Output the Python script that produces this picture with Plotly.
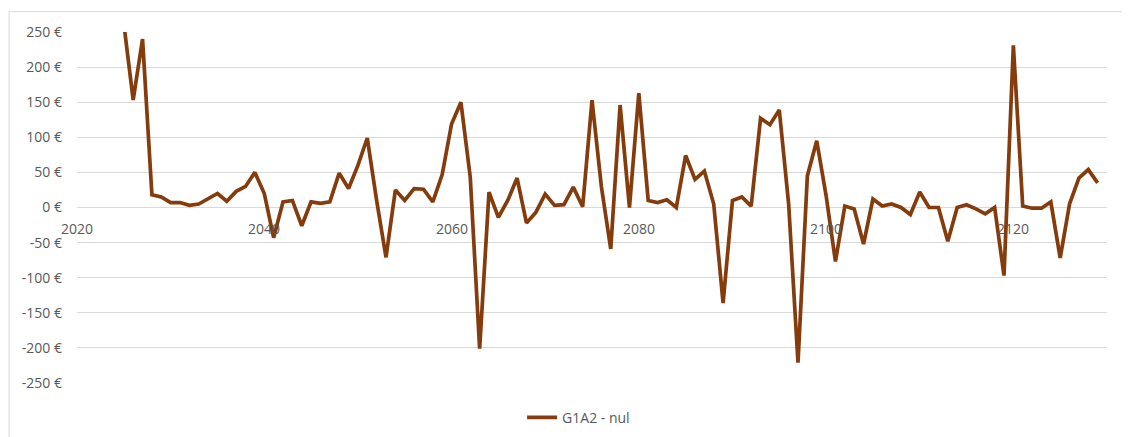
import plotly.graph_objects as go

# yearly values (euros)
years = list(range(2025, 2130))
values = [
    262, 153, 240, 18, 15, 7, 7, 3, 5, 12,          # 2025-2034
    20, 9, 23, 30, 50, 20, -43, 8, 10, -26,         # 2035-2044
    8, 6, 8, 49, 27, 60, 99, 10, -71, 25,           # 2045-2054
    10, 27, 26, 8, 47, 119, 150, 43, -201, 22,      # 2055-2064
    -14, 10, 42, -22, -7, 19, 3, 4, 29, 1,          # 2065-2074
    153, 30, -59, 146, 0, 163, 10, 7, 11, 0,        # 2075-2084
    74, 40, 52, 5, -136, 10, 15, 2, 127, 118,       # 2085-2094
    139, 5, -221, 45, 95, 17, -77, 2, -2, -52,      # 2095-2104
    12, 2, 5, 0, -10, 22, 0, 0, -48, 0,             # 2105-2114
    4, -2, -9, 0, -97, 231, 2, -1, -1, 8,           # 2115-2124
    -72, 5, 42, 54, 35,                             # 2125-2129
]
x_ticks = [2020, 2040, 2060, 2080, 2100, 2120]
y_ticks = [250, 200, 150, 100, 50, 0, -50, -100, -150, -200, -250]
y_labels = [f"{v} €" for v in y_ticks]
series_name = "G1A2 - nul"

LINE = "#843C0C"
GRID = "#D9D9D9"
TEXT = "#595959"
FONT = "Open Sans"

fig = go.Figure()
fig.add_trace(go.Scatter(
    x=years, y=values, mode="lines", name=series_name,
    line=dict(color=LINE, width=3.7),
))

# x labels sit on the zero line, like the Excel original
for yr in x_ticks:
    fig.add_annotation(
        x=yr, y=0, xref="x", yref="y", text=str(yr), showarrow=False,
        yshift=-21, font=dict(family=FONT, size=14, color=TEXT),
    )

# chart-area border (runs past the right/bottom edge of the screenshot)
fig.add_shape(
    type="rect", xref="paper", yref="paper",
    x0=-0.066, x1=1.05, y0=-0.25, y1=1.058,
    line=dict(color=GRID, width=1), fillcolor="rgba(0,0,0,0)", layer="below",
)

# the html page adds an 8px body margin, so margins are offset by 8
fig.update_layout(
    width=1130, height=437,
    margin=dict(l=69, r=31, t=24, b=62, autoexpand=False),
    paper_bgcolor="white", plot_bgcolor="white",
    font=dict(family=FONT, size=14, color=TEXT),
    showlegend=True,
    legend=dict(
        orientation="h", x=0.487, xanchor="center",
        yref="container", y=0.0625, yanchor="middle",
        font=dict(family=FONT, size=14, color=TEXT),
    ),
    xaxis=dict(
        range=[2020, 2130], showgrid=False, zeroline=False,
        showticklabels=False, ticks="", showline=False, automargin=False,
    ),
    yaxis=dict(
        range=[-250, 250], tickvals=y_ticks, ticktext=y_labels,
        showgrid=True, gridcolor=GRID, gridwidth=1,
        zeroline=True, zerolinecolor=GRID, zerolinewidth=1,
        showline=False, ticks="", ticklabelstandoff=14, automargin=False,
    ),
)

fig.write_html("out.html")
